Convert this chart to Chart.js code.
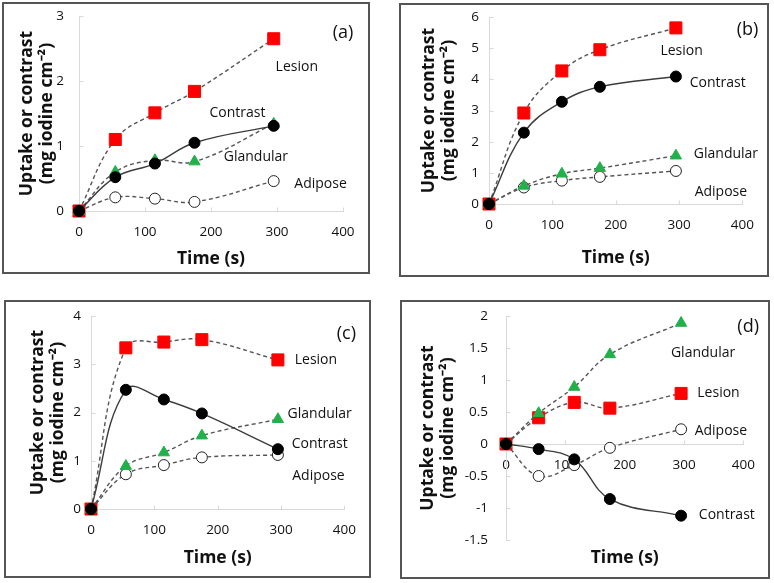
<!DOCTYPE html>
<html>
<head>
<meta charset="utf-8">
<script src="https://cdn.jsdelivr.net/npm/chart.js@4.4.1/dist/chart.umd.min.js"></script>
<style>
  html, body { margin: 0; padding: 0; background: #fff; }
  body { width: 774px; height: 583px; position: relative; overflow: hidden; }
  .panel { position: absolute; box-sizing: border-box; border: 2px solid #555; background: #fff; }
  .panel canvas { display: block; }
</style>
</head>
<body>
<div class="panel" id="pa"><canvas id="ca"></canvas></div>
<div class="panel" id="pb"><canvas id="cb"></canvas></div>
<div class="panel" id="pc"><canvas id="cc"></canvas></div>
<div class="panel" id="pd"><canvas id="cd"></canvas></div>
<script>
// sampling times (s), same for every panel
const time = [0, 55, 115, 175, 295];
const xTicks = [0, 100, 200, 300, 400];

// (a)
const yTicksA = [0, 1, 2, 3];
const lesionA    = [0, 1.10, 1.51, 1.84, 2.65];
const contrastA  = [0, 0.52, 0.73, 1.05, 1.31];
const glandularA = [0, 0.60, 0.78, 0.76, 1.34];
const adiposeA   = [0, 0.21, 0.19, 0.14, 0.46];

// (b)
const yTicksB = [0, 1, 2, 3, 4, 5, 6];
const lesionB    = [0, 2.92, 4.27, 4.95, 5.65];
const contrastB  = [0, 2.29, 3.28, 3.76, 4.09];
const glandularB = [0, 0.58, 0.97, 1.15, 1.55];
const adiposeB   = [0, 0.53, 0.75, 0.87, 1.06];

// (c)
const yTicksC = [0, 1, 2, 3, 4];
const lesionC    = [0, 3.34, 3.46, 3.51, 3.09];
const contrastC  = [0, 2.47, 2.27, 1.98, 1.24];
const glandularC = [0, 0.89, 1.17, 1.52, 1.86];
const adiposeC   = [0, 0.72, 0.91, 1.07, 1.12];

// (d)
const yTicksD = [-1.5, -1, -0.5, 0, 0.5, 1, 1.5, 2];
const lesionD    = [0, 0.41, 0.65, 0.56, 0.79];
const contrastD  = [0, -0.08, -0.24, -0.86, -1.12];
const glandularD = [0, 0.48, 0.89, 1.40, 1.89];
const adiposeD   = [0, -0.50, -0.33, -0.06, 0.23];

// text labels [text, time, value, big]
const notesA = [['(a)', 400, 2.74, 1], ['Lesion', 330, 2.22], ['Contrast', 240, 1.51], ['Glandular', 268, 0.83], ['Adipose', 366, 0.42]];
const notesB = [['(b)', 408, 5.58, 1], ['Lesion', 304, 4.9], ['Contrast', 361, 3.87], ['Glandular', 374, 1.6], ['Adipose', 366, 0.38]];
const notesC = [['(c)', 403, 3.62, 1], ['Lesion', 355, 3.09], ['Glandular', 361, 1.97], ['Contrast', 361, 1.35], ['Adipose', 359, 0.68]];
const notesD = [['(d)', 408, 1.83, 1], ['Glandular', 332, 1.42], ['Lesion', 358, 0.80], ['Adipose', 362, 0.21], ['Contrast', 372, -1.11]];

const FONT = '"Open Sans"';
const AXIS = '#d9d9d9';
const DASHLINE = '#555';
const TITLE_SIZE = 17.5;
const TICK_SIZE = 13.5;

// page layout: box = [left, top, width, height], plot = [left, top, right, bottom]
const panels = [
  { key: 'a', box: [2, 2, 368, 272],   plot: [79, 16, 343, 211],  yTitleX: 27,  xTitleY: 259, yPad: 15, yTicks: yTicksA, data: [contrastA, glandularA, adiposeA, lesionA], notes: notesA },
  { key: 'b', box: [399, 3, 370, 274], plot: [489, 17, 747, 204], yTitleX: 429, xTitleY: 258, yPad: 10, yTicks: yTicksB, data: [contrastB, glandularB, adiposeB, lesionB], notes: notesB },
  { key: 'c', box: [4, 300, 367, 278], plot: [91, 316, 348, 509], yTitleX: 38,  xTitleY: 558, yPad: 10, yTicks: yTicksC, data: [contrastC, glandularC, adiposeC, lesionC], notes: notesC },
  { key: 'd', box: [400, 300, 370, 279], plot: [506, 316, 747, 540], yTitleX: 428, xTitleY: 558, yPad: 18, yTicks: yTicksD, data: [contrastD, glandularD, adiposeD, lesionD], notes: notesD }
];

const notesPlugin = {
  id: 'notes',
  beforeDatasetsDraw(chart) {
    // little inside tick marks, Excel style
    const { ctx, scales: { x, y } } = chart;
    const y0 = Math.round(y.getPixelForValue(0)) + 0.5;
    const x0 = Math.round(x.getPixelForValue(0)) + 0.5;
    ctx.save();
    ctx.strokeStyle = AXIS; ctx.lineWidth = 1;
    x.ticks.forEach(t => {
      if (t.value === 0) return;
      const px = Math.round(x.getPixelForValue(t.value)) + 0.5;
      ctx.beginPath(); ctx.moveTo(px, y0); ctx.lineTo(px, y0 - 4); ctx.stroke();
    });
    y.ticks.forEach(t => {
      if (t.value === 0) return;
      const py = Math.round(y.getPixelForValue(t.value)) + 0.5;
      ctx.beginPath(); ctx.moveTo(x0, py); ctx.lineTo(x0 + 4, py); ctx.stroke();
    });
    ctx.restore();
  },
  afterDatasetsDraw(chart, args, opts) {
    const { ctx, scales: { x, y } } = chart;
    ctx.save();
    ctx.fillStyle = '#111';
    ctx.textAlign = 'center';
    ctx.textBaseline = 'middle';
    (opts.items || []).forEach(([txt, vx, vy, big]) => {
      ctx.font = big ? '18px ' + FONT : '14px ' + FONT;
      ctx.fillText(txt, x.getPixelForValue(vx), y.getPixelForValue(vy));
    });
    ctx.restore();
  }
};

function series(label, values, style) {
  return Object.assign({
    label,
    data: values.map((v, i) => ({ x: time[i], y: v })),
    showLine: true,
    clip: false,
    tension: 0.4,
    borderWidth: 1.4,
    borderColor: DASHLINE,
    borderDash: [4, 3],
    pointBorderWidth: 1
  }, style);
}

panels.forEach(p => {
  const [bl, bt, bw, bh] = p.box;
  const [pl, pt, pr, pb] = p.plot;
  const div = document.getElementById('p' + p.key);
  Object.assign(div.style, { left: bl + 'px', top: bt + 'px', width: bw + 'px', height: bh + 'px' });
  const cw = bw - 4, ch = bh - 4;           // inside the 2px border
  const cl = bl + 2, ct = bt + 2;
  const canvas = document.getElementById('c' + p.key);
  canvas.width = cw; canvas.height = ch;
  canvas.style.width = cw + 'px'; canvas.style.height = ch + 'px';

  const titleFont = { family: FONT, size: TITLE_SIZE, weight: 'bold', lineHeight: 1.15 };
  const lh = TITLE_SIZE * 1.15;
  const yW = pl - cl;
  const xH = (ct + ch) - pb;
  const yTitlePad = p.yTitleX - cl - lh / 2;
  const xTitlePad = (ct + ch) - p.xTitleY - lh / 2;
  const [c, g, a, l] = p.data;
  const tickFont = { family: FONT, size: TICK_SIZE };

  new Chart(canvas, {
    type: 'scatter',
    data: {
      datasets: [
        series('Contrast', c, { borderColor: '#3c3c3c', borderDash: [], pointStyle: 'circle', pointRadius: 5.5, pointBackgroundColor: '#000', pointBorderColor: '#000' }),
        series('Glandular', g, { pointStyle: 'triangle', pointRadius: 6.5, pointBackgroundColor: '#22b04b', pointBorderColor: '#22b04b' }),
        series('Adipose', a, { pointStyle: 'circle', pointRadius: 5.5, pointBackgroundColor: '#fff', pointBorderColor: '#222' }),
        series('Lesion', l, { pointStyle: 'rect', pointRadius: 8.5, pointBackgroundColor: '#ff0000', pointBorderColor: '#ff0000' })
      ]
    },
    options: {
      responsive: false,
      animation: false,
      layout: { padding: { left: 0, bottom: 0, top: pt - ct, right: (cl + cw) - pr } },
      plugins: { legend: { display: false }, tooltip: { enabled: false }, notes: { items: p.notes } },
      scales: {
        x: {
          type: 'linear', position: { y: 0 },
          min: xTicks[0], max: xTicks[xTicks.length - 1],
          grid: { display: false, drawTicks: false },
          border: { color: AXIS, width: 1 },
          ticks: { stepSize: xTicks[1] - xTicks[0], padding: 13, color: '#111', font: tickFont }
        },
        xt: {
          type: 'linear', axis: 'x', position: 'bottom',
          min: xTicks[0], max: xTicks[xTicks.length - 1],
          grid: { display: false, drawTicks: false },
          border: { display: false },
          ticks: { display: false },
          title: { display: true, text: 'Time (s)', color: '#111', font: titleFont, padding: { top: 0, bottom: xTitlePad } },
          afterFit(s) { s.height = xH; }
        },
        y: {
          type: 'linear', position: 'left',
          min: p.yTicks[0], max: p.yTicks[p.yTicks.length - 1],
          grid: { display: false, drawTicks: false },
          border: { color: AXIS, width: 1 },
          ticks: { stepSize: p.yTicks[1] - p.yTicks[0], padding: p.yPad, color: '#111', font: tickFont, callback: v => String(v) },
          title: { display: true, text: ['Uptake or contrast', '(mg iodine cm\u207B\u00B2)'], color: '#111', font: titleFont, padding: { top: yTitlePad, bottom: 0 } },
          afterFit(s) { s.width = yW; s.paddingTop = 0; s.paddingBottom = 0; }
        }
      }
    },
    plugins: [notesPlugin]
  });
});
</script>
</body>
</html>
